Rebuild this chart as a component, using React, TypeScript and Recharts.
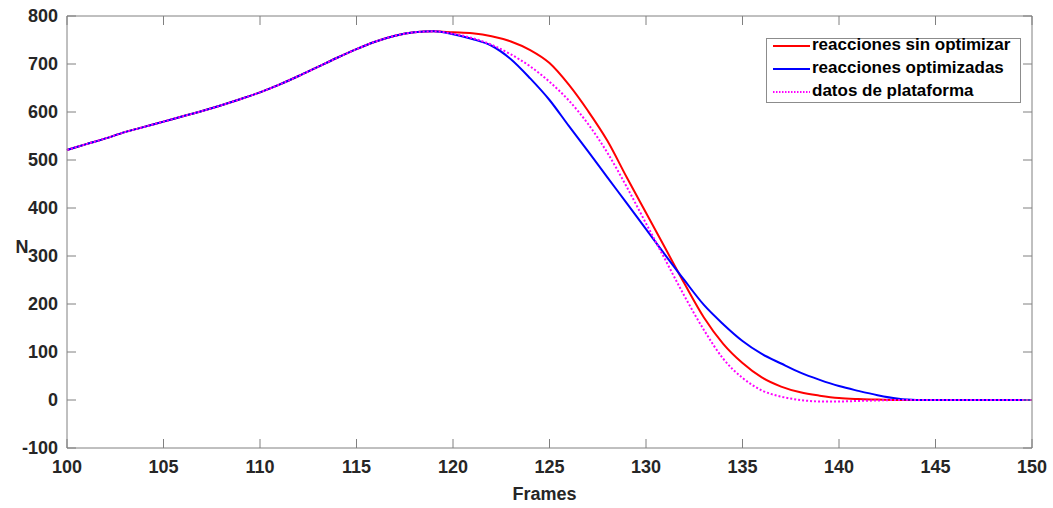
import { Line, LineChart, XAxis, YAxis } from "recharts";

// Ground reaction force (N) per frame.
const frames = [
  100, 101, 102, 103, 104, 105, 106, 107, 108, 109, 110, 111, 112, 113, 114, 115, 116,
  117, 118, 119, 120, 121, 122, 123, 124, 125, 126, 127, 128, 129, 130, 131, 132, 133,
  134, 135, 136, 137, 138, 139, 140, 141, 142, 143, 144, 145, 146, 147, 148, 149, 150,
];

const sinOptimizar = [
  521, 533, 545, 558, 569, 580, 591, 602, 614, 627, 641, 657, 675, 694, 713, 731, 747,
  759, 766, 768, 766, 764, 758, 747, 729, 702, 657, 602, 540, 464, 390, 316, 242, 172,
  117, 77, 47, 28, 16, 9, 4, 2, 1, 0, 0, 0, 0, 0, 0, 0, 0,
];

const optimizadas = [
  521, 533, 545, 558, 569, 580, 591, 602, 614, 627, 641, 657, 675, 694, 713, 731, 747,
  759, 766, 768, 762, 752, 738, 710, 670, 625, 571, 518, 464, 410, 356, 302, 249, 198,
  158, 123, 96, 76, 57, 42, 29, 19, 10, 3, 0, 0, 0, 0, 0, 0, 0,
];

const plataforma = [
  521, 533, 545, 558, 569, 580, 591, 602, 614, 627, 641, 657, 675, 694, 713, 731, 747,
  759, 766, 768, 763, 754, 740, 720, 695, 663, 624, 575, 515, 444, 368, 292, 216, 146,
  86, 46, 20, 7, 0, -3, -3, -2, -1, 0, 0, 0, 0, 0, 0, 0, 0,
];

const xTicks = [100, 105, 110, 115, 120, 125, 130, 135, 140, 145, 150];
const yTicks = [-100, 0, 100, 200, 300, 400, 500, 600, 700, 800];

const series = [
  { key: "a", label: "reacciones sin optimizar", color: "#ff0000", dash: undefined },
  { key: "b", label: "reacciones optimizadas", color: "#0000ff", dash: undefined },
  { key: "c", label: "datos de plataforma", color: "#ff00ff", dash: "2 2" },
];

const data = frames.map((f, i) => ({
  f,
  a: sinOptimizar[i],
  b: optimizadas[i],
  c: plataforma[i],
}));

const FONT = '"Liberation Sans", Arial, Helvetica, sans-serif';
const AXIS = "#808080";
const TEXT = "#262626";
const TICK = 9; // MATLAB-style inward tick length

// tick renderers: x/y arrive on the axis line itself (tickSize 0, tickMargin 0)
const BottomTick = ({ x, y, payload }: any) => (
  <g>
    <line x1={x} x2={x} y1={y} y2={y - TICK} stroke={AXIS} />
    <text
      x={x}
      y={y + 12}
      dy="0.71em"
      textAnchor="middle"
      fill={TEXT}
      fontSize={18}
      fontWeight={700}
      fontFamily={FONT}
    >
      {payload.value}
    </text>
  </g>
);

const LeftTick = ({ x, y, payload }: any) => (
  <g>
    <line x1={x} x2={x + TICK} y1={y} y2={y} stroke={AXIS} />
    <text
      x={x - 9}
      y={y}
      dy="0.36em"
      textAnchor="end"
      fill={TEXT}
      fontSize={18}
      fontWeight={700}
      fontFamily={FONT}
    >
      {payload.value}
    </text>
  </g>
);

const TopTick = ({ x, y }: any) => <line x1={x} x2={x} y1={y} y2={y + TICK} stroke={AXIS} />;
const RightTick = ({ x, y }: any) => <line x1={x} x2={x - TICK} y1={y} y2={y} stroke={AXIS} />;

function LegendBox() {
  return (
    <div
      style={{
        position: "absolute",
        left: 766,
        top: 38,
        width: 255,
        height: 65,
        border: "1px solid #8c8c8c",
        background: "#fff",
        boxSizing: "border-box",
        fontFamily: FONT,
        fontWeight: 700,
        fontSize: 17,
        color: "#000",
      }}
    >
      {series.map((s, i) => (
        <div
          key={s.key}
          style={{
            position: "absolute",
            left: 6,
            top: -6 + i * 23,
            height: 24,
            display: "flex",
            alignItems: "center",
            whiteSpace: "nowrap",
          }}
        >
          <svg width={38} height={6} style={{ marginRight: 1, marginTop: 2 }}>
            <line
              x1={0}
              y1={3}
              x2={37}
              y2={3}
              stroke={s.color}
              strokeWidth={2}
              strokeDasharray={s.dash ? "1.5 1.5" : undefined}
            />
          </svg>
          <span style={{ lineHeight: "24px" }}>{s.label}</span>
        </div>
      ))}
    </div>
  );
}

export default function App() {
  return (
    <div style={{ position: "absolute", left: 0, top: 0, width: 1053, height: 508, background: "#fff" }}>
      <LineChart
        width={1053}
        height={508}
        data={data}
        margin={{ top: 15, right: 20, bottom: 30, left: 7 }}
      >
        <XAxis
          dataKey="f"
          type="number"
          domain={[100, 150]}
          ticks={xTicks}
          height={30}
          stroke={AXIS}
          tickLine={false}
          tickSize={0}
          tickMargin={0}
          tick={<BottomTick />}
          label={{
            content: ({ viewBox }: any) => (
              <text
                x={viewBox.x + viewBox.width / 2 - 5}
                y={500}
                textAnchor="middle"
                fill={TEXT}
                fontSize={18}
                fontWeight={700}
                fontFamily={FONT}
              >
                Frames
              </text>
            ),
          }}
        />
        <XAxis
          xAxisId="top"
          orientation="top"
          dataKey="f"
          type="number"
          domain={[100, 150]}
          ticks={xTicks}
          height={1}
          stroke={AXIS}
          tickLine={false}
          tickSize={0}
          tickMargin={0}
          tick={<TopTick />}
        />
        <YAxis
          type="number"
          domain={[-100, 800]}
          ticks={yTicks}
          width={60}
          stroke={AXIS}
          tickLine={false}
          tickSize={0}
          tickMargin={0}
          tick={<LeftTick />}
          label={{
            content: () => (
              <text x={22} y={253} textAnchor="middle" fill={TEXT} fontSize={18} fontWeight={700} fontFamily={FONT}>
                N
              </text>
            ),
          }}
        />
        <YAxis
          yAxisId="right"
          orientation="right"
          type="number"
          domain={[-100, 800]}
          ticks={yTicks}
          width={1}
          stroke={AXIS}
          tickLine={false}
          tickSize={0}
          tickMargin={0}
          tick={<RightTick />}
        />
        {/* invisible series so the top/right box axes get drawn */}
        <Line
          xAxisId="top"
          yAxisId="right"
          dataKey="a"
          stroke="none"
          dot={false}
          activeDot={false}
          legendType="none"
          isAnimationActive={false}
        />
        {series.map((s) => (
          <Line
            key={s.key}
            dataKey={s.key}
            name={s.label}
            type="monotone"
            stroke={s.color}
            strokeWidth={2}
            strokeDasharray={s.dash}
            dot={false}
            isAnimationActive={false}
          />
        ))}
      </LineChart>
      <LegendBox />
    </div>
  );
}
